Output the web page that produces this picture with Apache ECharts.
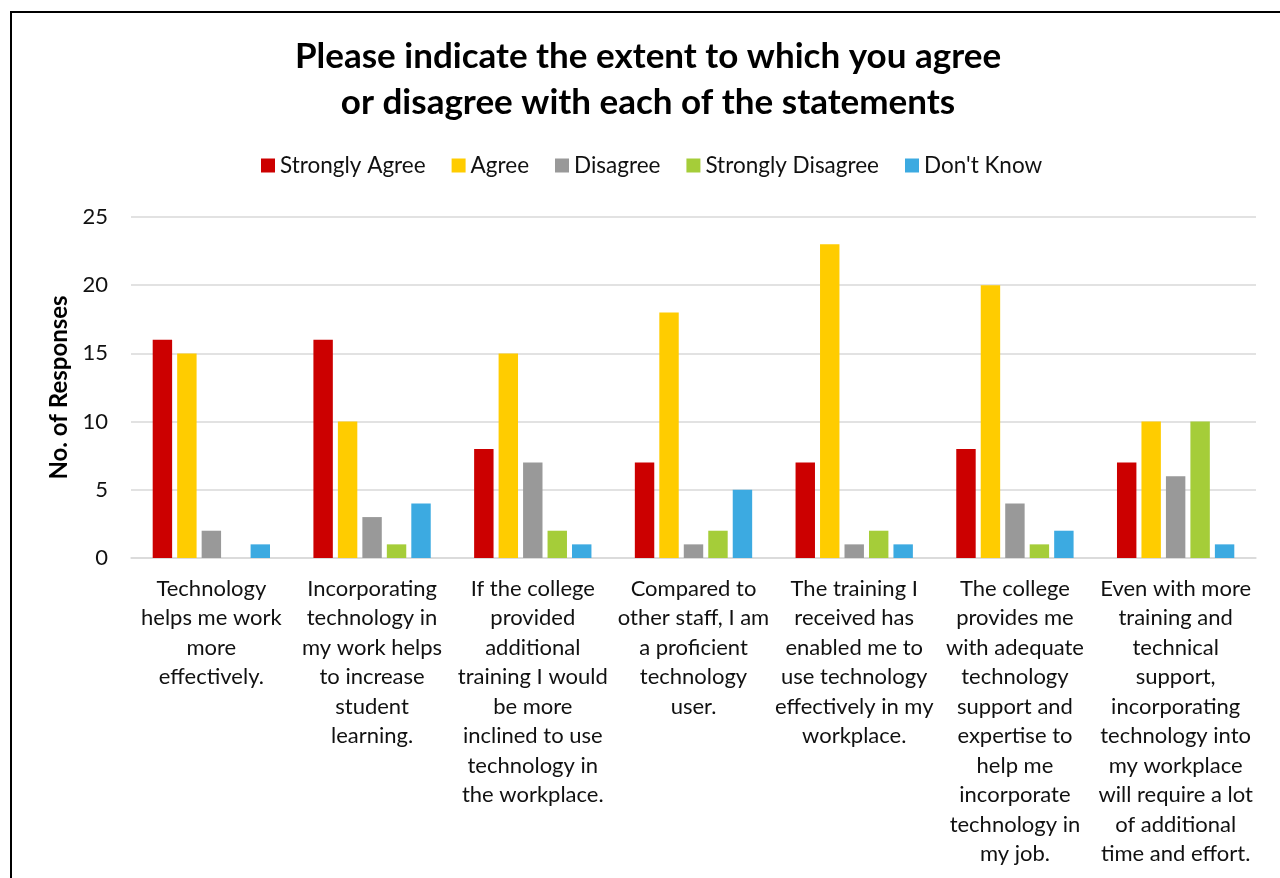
<!DOCTYPE html>
<html>
<head>
<meta charset="utf-8">
<title>Agreement with statements</title>
<script src="https://cdn.jsdelivr.net/npm/echarts@6/dist/echarts.min.js"></script>
<style>
  html, body { margin: 0; padding: 0; background: #fff; }
  #chart { width: 1280px; height: 878px; }
</style>
</head>
<body>
<div id="chart"></div>
<script>
// category labels, wrapped like the original
const statements = [
    'Technology\nhelps me work\nmore\neffectively.',
    'Incorporating\ntechnology in\nmy work helps\nto increase\nstudent\nlearning.',
    'If the college\nprovided\nadditional\ntraining I would\nbe more\ninclined to use\ntechnology in\nthe workplace.',
    'Compared to\nother staff, I am\na proficient\ntechnology\nuser.',
    'The training I\nreceived has\nenabled me to\nuse technology\neffectively in my\nworkplace.',
    'The college\nprovides me\nwith adequate\ntechnology\nsupport and\nexpertise to\nhelp me\nincorporate\ntechnology in\nmy job.',
    'Even with more\ntraining and\ntechnical\nsupport,\nincorporating\ntechnology into\nmy workplace\nwill require a lot\nof additional\ntime and effort.'
]

const stronglyAgree = [16, 16, 8, 7, 7, 8, 7]
const agree = [15, 10, 15, 18, 23, 20, 10]
const disagree = [2, 3, 7, 1, 1, 4, 6]
const stronglyDisagree = [0, 1, 2, 2, 2, 1, 10]
const dontKnow = [1, 4, 1, 5, 1, 2, 1]

const yTicks = [0, 5, 10, 15, 20, 25]

const font = 'Lato, "Open Sans", sans-serif'

const seriesList = [
    { name: 'Strongly Agree', data: stronglyAgree, color: '#CC0000' },
    { name: 'Agree', data: agree, color: '#FFCC00' },
    { name: 'Disagree', data: disagree, color: '#999999' },
    { name: 'Strongly Disagree', data: stronglyDisagree, color: '#A5CD39' },
    { name: "Don't Know", data: dontKnow, color: '#3CAAE1' }
]

const chart = echarts.init(document.getElementById('chart'))
chart.setOption({
    backgroundColor: '#fff',
    animation: false,
    textStyle: { fontFamily: font },
    graphic: [
        {
            // outer frame of the chart
            type: 'rect',
            shape: { x: 11, y: 12, width: 1320, height: 900 },
            style: { fill: 'none', stroke: '#000', lineWidth: 2 },
            silent: true
        }
    ],
    title: {
        text: 'Please indicate the extent to which you agree\nor disagree with each of the statements',
        left: 643,
        textAlign: 'center',
        top: 29,
        textStyle: {
            fontFamily: font,
            fontSize: 35,
            fontWeight: 'bold',
            color: '#000',
            lineHeight: 46
        }
    },
    legend: {
        top: 149,
        left: 256,
        itemWidth: 14,
        itemHeight: 14,
        itemGap: 26,
        icon: 'rect',
        textStyle: { fontFamily: font, fontSize: 22.5, color: '#111' },
        data: seriesList.map(s => s.name)
    },
    grid: {
        top: 217,
        bottom: 320,
        left: 131,
        right: 24,
        containLabel: false
    },
    xAxis: {
        type: 'category',
        data: statements,
        axisTick: { show: false },
        axisLine: { lineStyle: { color: '#D9D9D9', width: 1.5 } },
        axisLabel: {
            interval: 0,
            margin: 16,
            fontFamily: font,
            fontSize: 22,
            lineHeight: 29.5,
            color: '#111',
            align: 'center',
            verticalAlign: 'top'
        }
    },
    yAxis: {
        type: 'value',
        min: yTicks[0],
        max: yTicks[yTicks.length - 1],
        interval: 5,
        name: 'No. of Responses',
        nameLocation: 'middle',
        nameGap: 56,
        nameTextStyle: { fontFamily: font, fontSize: 24, fontWeight: 'bold', color: '#000' },
        axisLine: { show: false },
        axisTick: { show: false },
        axisLabel: { fontFamily: font, fontSize: 22, color: '#111', margin: 23 },
        splitLine: { lineStyle: { color: '#D9D9D9', width: 1.5 } }
    },
    series: seriesList.map(s => ({
        name: s.name,
        type: 'bar',
        data: s.data,
        barGap: '26%',
        barCategoryGap: '27%',
        itemStyle: { color: s.color }
    }))
})

window.addEventListener('resize', () => {
    chart.resize()
})
</script>
</body>
</html>
